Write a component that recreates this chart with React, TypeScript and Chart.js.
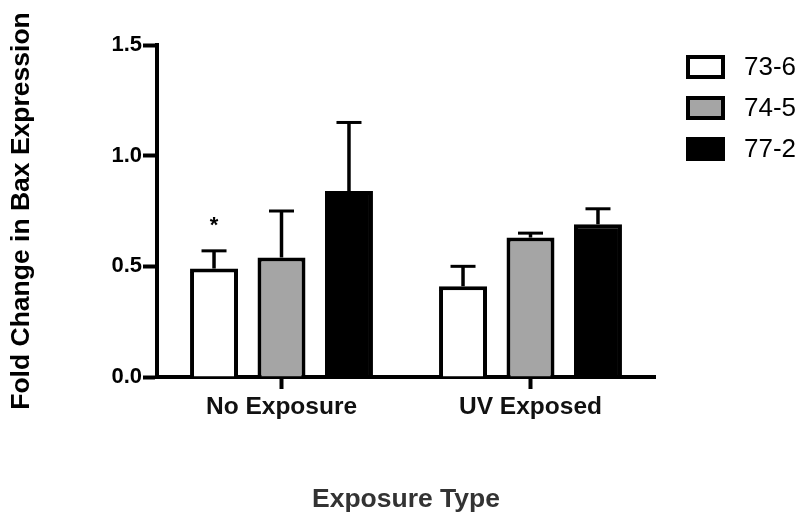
import React, { useEffect, useRef } from "react";
import { Chart, registerables } from "chart.js";

Chart.register(...registerables);

// Groups on the x axis
const categories = ["No Exposure", "UV Exposed"];

// Cell lines (series)
const seriesLabels = ["73-6", "74-5", "77-2"];

// Mean fold change per group
const mean736 = [0.49, 0.41];
const mean745 = [0.54, 0.63];
const mean772 = [0.84, 0.69];

// Upper error (SEM) per group
const err736 = [0.08, 0.09];
const err745 = [0.21, 0.02];
const err772 = [0.31, 0.07];

// Significance marks above the 73-6 bars
const sig736 = ["*", ""];

// Y axis ticks
const yTicks = [0, 0.5, 1.0, 1.5];

const FONT = "'Liberation Sans', Arial, Helvetica, sans-serif";
const fills = ["#ffffff", "#a5a5a5", "#000000"];

const means = [mean736, mean745, mean772];
const errors = [err736, err745, err772];
const marks = [sig736, ["", ""], ["", ""]];

const errorBarPlugin = {
  id: "errorBars",
  afterDatasetsDraw(chart: any) {
    const { ctx } = chart;
    const yScale = chart.scales.y;
    ctx.save();
    ctx.strokeStyle = "#000";
    chart.data.datasets.forEach((ds: any, i: number) => {
      const meta = chart.getDatasetMeta(i);
      meta.data.forEach((bar: any, j: number) => {
        const top = yScale.getPixelForValue(means[i][j] + errors[i][j]);
        const base = yScale.getPixelForValue(means[i][j]);
        ctx.lineWidth = 3.5;
        ctx.beginPath();
        ctx.moveTo(bar.x, base);
        ctx.lineTo(bar.x, top);
        ctx.stroke();
        ctx.lineWidth = 3;
        ctx.beginPath();
        ctx.moveTo(bar.x - 12.5, top);
        ctx.lineTo(bar.x + 12.5, top);
        ctx.stroke();
        const m = marks[i][j];
        if (m) {
          ctx.fillStyle = "#000";
          ctx.font = `bold 22px ${FONT}`;
          ctx.textAlign = "center";
          ctx.textBaseline = "alphabetic";
          ctx.fillText(m, bar.x, top - 19);
        }
      });
    });
    ctx.restore();
  },
};

const legendPlugin = {
  id: "boxLegend",
  afterDraw(chart: any) {
    const { ctx } = chart;
    ctx.save();
    chart.data.datasets.forEach((ds: any, i: number) => {
      const x = 686;
      const y = 55 + i * 41;
      const w = 39;
      const h = 24;
      ctx.fillStyle = ds.backgroundColor;
      ctx.fillRect(x, y, w, h);
      ctx.strokeStyle = "#000";
      ctx.lineWidth = 4;
      ctx.strokeRect(x + 2, y + 2, w - 4, h - 4);
      ctx.fillStyle = "#000";
      ctx.font = `26px ${FONT}`;
      ctx.textAlign = "left";
      ctx.textBaseline = "middle";
      ctx.fillText(ds.label, 744, y + h / 2 + 1);
    });
    ctx.restore();
  },
};

export default function App() {
  const canvasRef = useRef<HTMLCanvasElement | null>(null);

  useEffect(() => {
    if (!canvasRef.current) return;
    const chart = new Chart(canvasRef.current, {
      type: "bar",
      data: {
        labels: categories,
        datasets: seriesLabels.map((label, i) => ({
          label,
          data: means[i],
          backgroundColor: fills[i],
          borderColor: "#000",
          borderWidth: 4,
          categoryPercentage: 0.813,
          barPercentage: 0.711,
        })),
      },
      options: {
        responsive: false,
        animation: false,
        layout: { padding: { top: 45, right: 150, bottom: 0, left: 0 } },
        plugins: {
          legend: { display: false },
          tooltip: { enabled: false },
        },
        scales: {
          x: {
            offset: true,
            grid: {
              offset: false,
              drawOnChartArea: false,
              drawTicks: true,
              tickLength: 12,
              tickWidth: 4,
              tickColor: "#000",
            },
            border: { display: true, color: "#000", width: 4 },
            ticks: {
              color: "#111",
              padding: 4,
              font: { family: FONT, size: 24.5, weight: "bold" },
            },
            title: {
              display: true,
              text: "Exposure Type",
              color: "#333",
              padding: { top: 0, bottom: 5 },
              font: { family: FONT, size: 26.5, weight: "bold" },
            },
            afterFit: (s: any) => {
              s.height = 144;
            },
          },
          y: {
            min: 0,
            max: 1.5,
            grid: {
              drawOnChartArea: false,
              drawTicks: true,
              tickLength: 14,
              tickWidth: 4,
              tickColor: "#000",
            },
            border: { display: true, color: "#000", width: 4 },
            afterBuildTicks: (s: any) => {
              s.ticks = yTicks.map((v) => ({ value: v }));
            },
            ticks: {
              color: "#000",
              padding: 1,
              font: { family: FONT, size: 22, weight: "bold" },
              callback: (v: any) => Number(v).toFixed(1),
            },
            title: {
              display: true,
              text: "Fold Change in Bax Expression",
              color: "#000",
              padding: { top: 6, bottom: 0 },
              font: { family: FONT, size: 26.5, weight: "bold" },
            },
            afterFit: (s: any) => {
              s.width = 157;
            },
          },
        },
      },
      plugins: [errorBarPlugin, legendPlugin],
    });
    return () => chart.destroy();
  }, []);

  return (
    <div style={{ position: "absolute", left: 0, top: 0, width: 805, height: 521, background: "#fff" }}>
      <canvas ref={canvasRef} width={805} height={521} />
    </div>
  );
}
